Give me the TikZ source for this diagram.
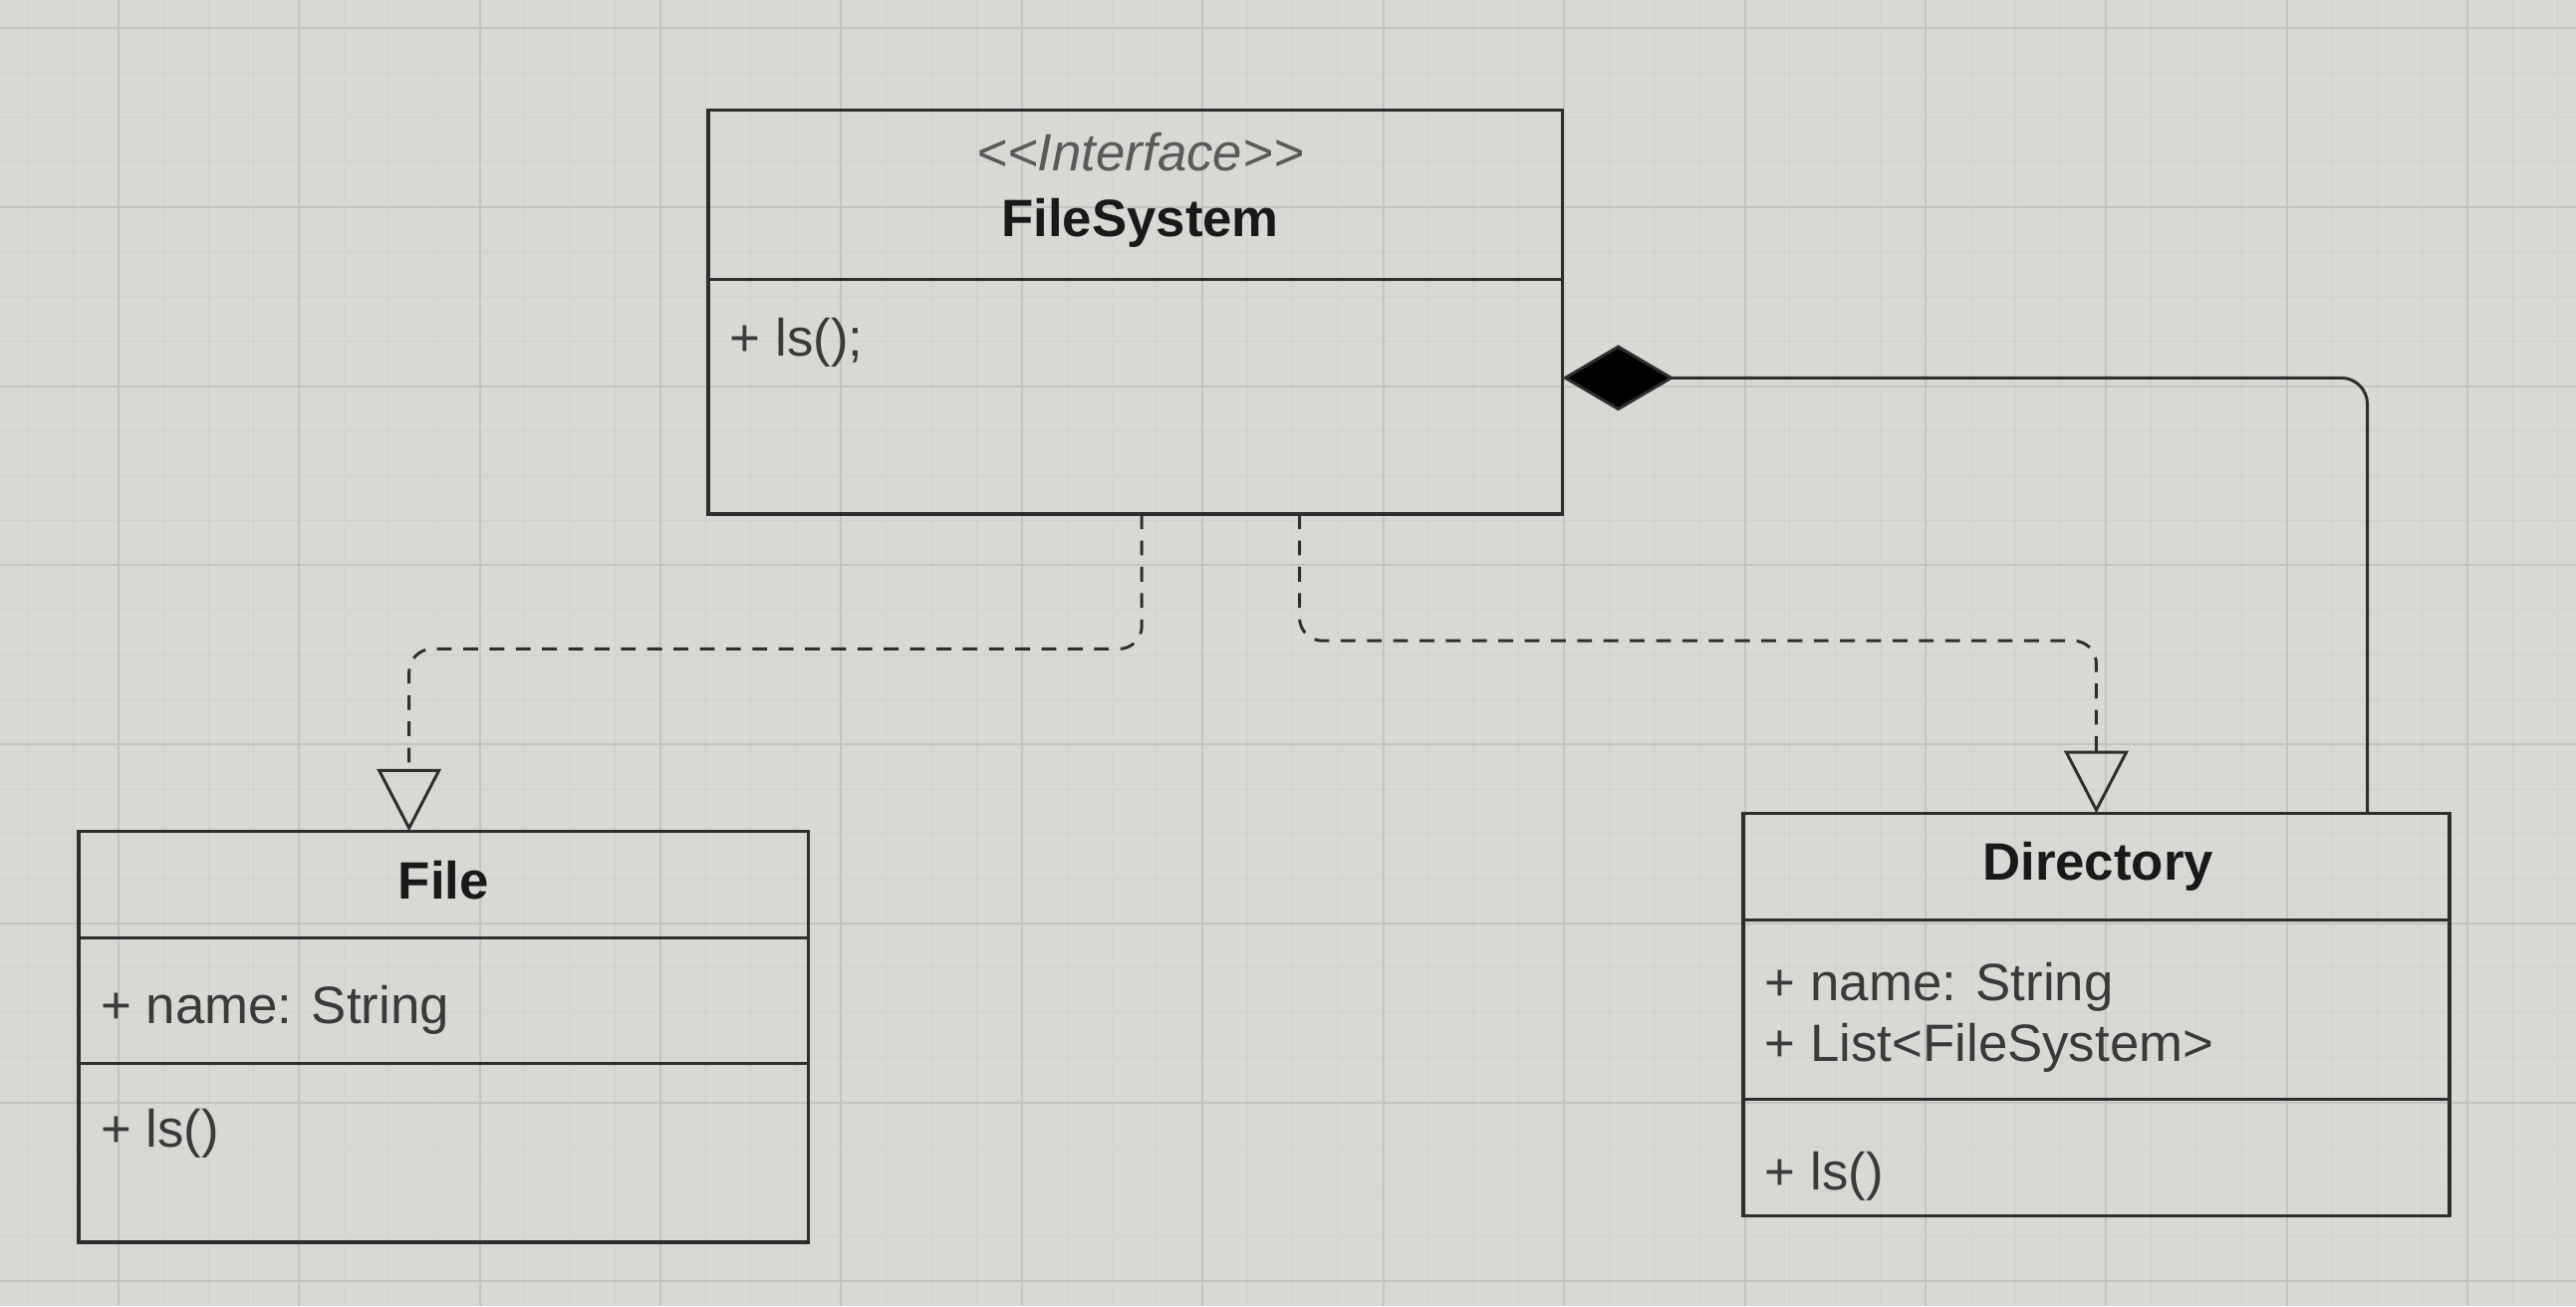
\documentclass[tikz,border=0pt]{standalone}
\usepackage{fontspec}
\setmainfont{Liberation Sans}
\usetikzlibrary{arrows.meta}
\definecolor{bgc}{HTML}{D9D8D4}
\definecolor{gridmaj}{HTML}{C5C3C1}
\definecolor{gridmin}{HTML}{D1D0CC}
\definecolor{linec}{HTML}{2E2E2E}
\definecolor{txtc}{HTML}{3A3A3A}
\definecolor{stereoc}{HTML}{5A5A5A}
\begin{document}
\begin{tikzpicture}[x=0.5pt,y=-0.5pt,
  umlbox/.style={draw=linec, line width=1.1pt, inner sep=0pt, outer sep=0pt},
  sepline/.style={draw=linec, line width=0.9pt},
  classtitle/.style={font=\fontsize{16}{19}\selectfont\bfseries, text=black!90, inner sep=0pt, anchor=base},
  member/.style={font=\fontsize{16}{19}\selectfont, text=txtc, inner sep=0pt, anchor=base west},
  stereo/.style={font=\fontsize{16}{19}\selectfont\itshape, text=stereoc, inner sep=0pt, anchor=base},
  realize/.style={draw=linec, line width=0.9pt, dash pattern=on 4.5pt off 3.5pt, rounded corners=7pt,
    -{Triangle[open, width=19.5pt, length=19pt, line width=0.9pt]}},
  compose/.style={draw=linec, line width=0.9pt, rounded corners=8pt,
    {Diamond[width=20pt, length=34pt, fill=black]}-},
  gmaj/.style={draw=gridmaj, line width=0.6pt},
  gmin/.style={draw=gridmin, line width=0.3pt}
]
% background and grid
\fill[bgc] (0,0) rectangle (1568,795);
\useasboundingbox (0,0) rectangle (1568,795);
\foreach \i in {0,...,58} {
  \draw[gmin] ({-10.5+27.5*\i},0) -- ({-10.5+27.5*\i},795);
}
\foreach \i in {0,...,30} {
  \draw[gmin] (0,{-10.25+27.25*\i}) -- (1568,{-10.25+27.25*\i});
}
\foreach \i in {0,...,14} {
  \draw[gmaj] ({72+110*\i},0) -- ({72+110*\i},795);
}
\foreach \i in {0,...,7} {
  \draw[gmaj] (0,{17+109*\i}) -- (1568,{17+109*\i});
}

% FileSystem interface
\node[umlbox, minimum width=260pt, minimum height=123pt] (fs) at (691,190) {};
\coordinate (fssep) at (0,170);
\draw[sepline] (fs.west |- fssep) -- (fs.east |- fssep);
\node[stereo] (fsstereo) at (694,104) {<\kern0pt<Interface>\kern0pt>};
\node[classtitle] (fsname) at (694,144) {FileSystem};
\node[member] (fsop) at (444,217) {+ ls();};

% File class
\node[umlbox, minimum width=222pt, minimum height=125pt] (file) at (270,631) {};
\coordinate (filesepa) at (0,571);
\coordinate (filesepb) at (0,647);
\draw[sepline] (file.west |- filesepa) -- (file.east |- filesepa);
\draw[sepline] (file.west |- filesepb) -- (file.east |- filesepb);
\node[classtitle] (filename) at (270,547) {File};
\node[member] (fileattr) at (61,623) {+ name: String};
\node[member] (fileop) at (61,698) {+ ls()};

% Directory class
\node[umlbox, minimum width=215pt, minimum height=122.5pt] (dir) at (1276,617.5) {};
\coordinate (dirsepa) at (0,560);
\coordinate (dirsepb) at (0,669);
\draw[sepline] (dir.west |- dirsepa) -- (dir.east |- dirsepa);
\draw[sepline] (dir.west |- dirsepb) -- (dir.east |- dirsepb);
\node[classtitle] (dirname) at (1277,536) {Directory};
\node[member] (dirattra) at (1074,609) {+ name: String};
\node[member] (dirattrb) at (1074,646) {+ List<FileSystem>};
\node[member] (dirop) at (1074,724) {+ ls()};

% realization: File -> FileSystem
\coordinate (la) at (695,395);
\coordinate (lb) at (249,395);
\draw[realize] (fs.south -| la) -- (la) -- (lb) -- (file.north -| lb);

% realization: Directory -> FileSystem
\coordinate (ra) at (791,390);
\coordinate (rb) at (1276,390);
\draw[realize] (fs.south -| ra) -- (ra) -- (rb) -- (dir.north -| rb);

% composition: FileSystem <>-- Directory
\coordinate (ka) at (1441,230);
\draw[compose] (fs.east |- ka) -- (ka) -- (dir.north -| ka);
\end{tikzpicture}
\end{document}
